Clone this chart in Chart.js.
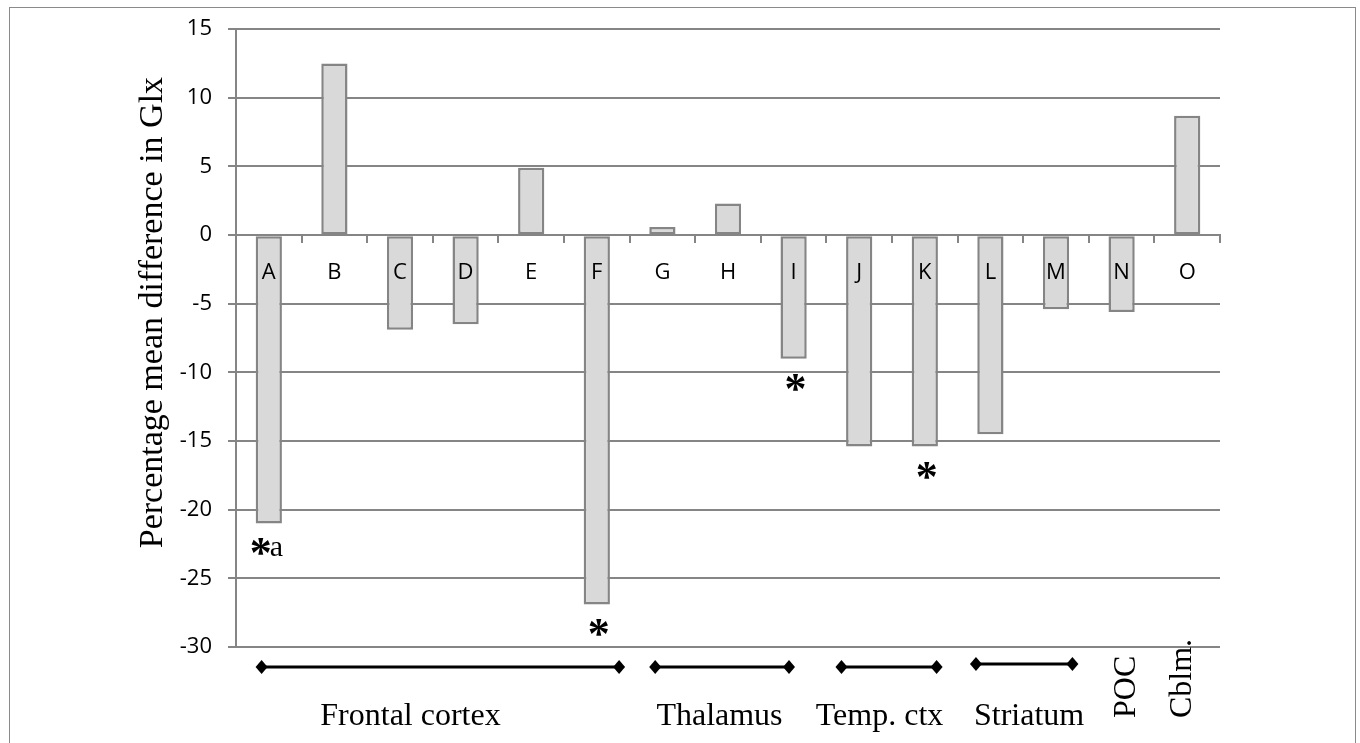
<!DOCTYPE html>
<html>
<head>
<meta charset="utf-8">
<title>Glx difference by region</title>
<script src="https://cdn.jsdelivr.net/npm/chart.js@4.4.1/dist/chart.umd.min.js"></script>
<style>
  html, body { margin: 0; padding: 0; background: #fff; }
  #wrap { width: 1360px; height: 743px; }
</style>
</head>
<body>
<div id="wrap"><canvas id="glxChart" width="1360" height="743"></canvas></div>
<script>
// valores
const regions = ['A', 'B', 'C', 'D', 'E', 'F', 'G', 'H', 'I', 'J', 'K', 'L', 'M', 'N', 'O'];
const glxDiff = [-21.0, 12.5, -6.9, -6.5, 4.9, -26.9, 0.6, 2.3, -9.0, -15.4, -15.4, -14.5, -5.4, -5.6, 8.7];
const sigMarks = ['*a', '', '', '', '', '*', '', '', '*', '', '*', '', '', '', ''];
const yMin = -30;
const yMax = 15;
const yStep = 5;

// grupos de regiões (em unidades de categoria)
const groupNames = ['Frontal cortex', 'Thalamus', 'Temp. ctx', 'Striatum'];
const groupFrom = [-0.11, 5.89, 8.73, 10.78];
const groupTo = [5.34, 7.93, 10.18, 12.25];
const groupLabelAt = [2.16, 6.87, 9.31, 11.59];
const sideNames = ['POC', 'Cblm.'];
const sideAt = [13.21, 14.06];

const GRAY = '#858585';
const SERIF = '"Liberation Serif", "DejaVu Serif", serif';
const SANS = '"Open Sans", sans-serif';

const framePlugin = {
  id: 'frame',
  beforeDraw(chart) {
    const c = chart.ctx;
    c.save();
    c.fillStyle = '#fff';
    c.fillRect(0, 0, chart.width, chart.height);
    c.strokeStyle = '#8a8a8a';
    c.lineWidth = 1;
    c.strokeRect(9.5, 7.5, 1346, 800);
    c.restore();
  }
};

const annotPlugin = {
  id: 'annot',
  afterDraw(chart) {
    const c = chart.ctx;
    const x = chart.scales.x;
    const bars = chart.getDatasetMeta(0).data;
    c.save();
    c.fillStyle = '#000';
    c.strokeStyle = '#000';

    // asteriscos
    sigMarks.forEach((m, i) => {
      if (!m) return;
      const b = bars[i];
      const cy = b.y + 23;
      c.textBaseline = 'alphabetic';
      c.textAlign = 'center';
      c.font = 'bold 44px ' + SERIF;
      const sx = m.length > 1 ? b.x - 8 : b.x + 2;
      c.fillText('*', sx, cy + 21);
      if (m.length > 1) {
        c.textAlign = 'left';
        c.font = '30px ' + SERIF;
        c.fillText(m.slice(1), sx + 9, cy + 10);
      }
    });

    // colchetes dos grupos
    const lineY = [667, 667, 667, 664];
    groupNames.forEach((g, i) => {
      const x0 = x.getPixelForValue(groupFrom[i]);
      const x1 = x.getPixelForValue(groupTo[i]);
      const y = lineY[i];
      c.lineWidth = 3;
      c.beginPath();
      c.moveTo(x0, y);
      c.lineTo(x1, y);
      c.stroke();
      [x0, x1].forEach(px => {
        c.beginPath();
        c.moveTo(px, y - 7);
        c.lineTo(px + 6, y);
        c.lineTo(px, y + 7);
        c.lineTo(px - 6, y);
        c.closePath();
        c.fill();
      });
      c.font = '32px ' + SERIF;
      c.textAlign = 'center';
      c.textBaseline = 'alphabetic';
      c.fillText(g, x.getPixelForValue(groupLabelAt[i]), 725);
    });

    // rótulos verticais
    sideNames.forEach((s, i) => {
      c.save();
      c.translate(x.getPixelForValue(sideAt[i]), 718);
      c.rotate(-Math.PI / 2);
      c.font = '32px ' + SERIF;
      c.textAlign = 'left';
      c.textBaseline = 'alphabetic';
      c.fillText(s, 0, 0);
      c.restore();
    });
    c.restore();
  }
};

new Chart(document.getElementById('glxChart'), {
  type: 'bar',
  data: {
    labels: regions,
    datasets: [{
      data: glxDiff,
      backgroundColor: '#d9d9d9',
      borderColor: GRAY,
      borderWidth: 2.5,
      borderSkipped: false,
      barPercentage: 0.4,
      categoryPercentage: 1
    }]
  },
  options: {
    responsive: false,
    animation: false,
    layout: { padding: { left: 0, top: 29, right: 140, bottom: 96 } },
    plugins: {
      legend: { display: false },
      tooltip: { enabled: false }
    },
    scales: {
      x: {
        position: { y: 0 },
        offset: true,
        grid: {
          offset: true,
          drawOnChartArea: false,
          drawTicks: true,
          tickLength: 7,
          color: GRAY,
          lineWidth: 2
        },
        border: { display: true, color: GRAY, width: 2, z: 1 },
        ticks: {
          z: 2,
          padding: 17,
          color: '#000',
          font: { family: SANS, size: 22 }
        }
      },
      y: {
        min: yMin,
        max: yMax,
        afterFit(scale) { scale.width = 236; },
        ticks: {
          stepSize: yStep,
          padding: 16,
          color: '#000',
          font: { family: SANS, size: 22 }
        },
        grid: {
          color: GRAY,
          lineWidth: 2,
          drawTicks: true,
          tickLength: 8
        },
        border: { display: true, color: GRAY, width: 2 },
        title: {
          display: true,
          text: '\u00a0\u00a0\u00a0\u00a0\u00a0\u00a0Percentage mean difference in Glx',
          color: '#000',
          font: { family: SERIF, size: 34 },
          padding: { top: 133, bottom: 0 }
        }
      }
    }
  },
  plugins: [framePlugin, annotPlugin]
});
</script>
</body>
</html>
